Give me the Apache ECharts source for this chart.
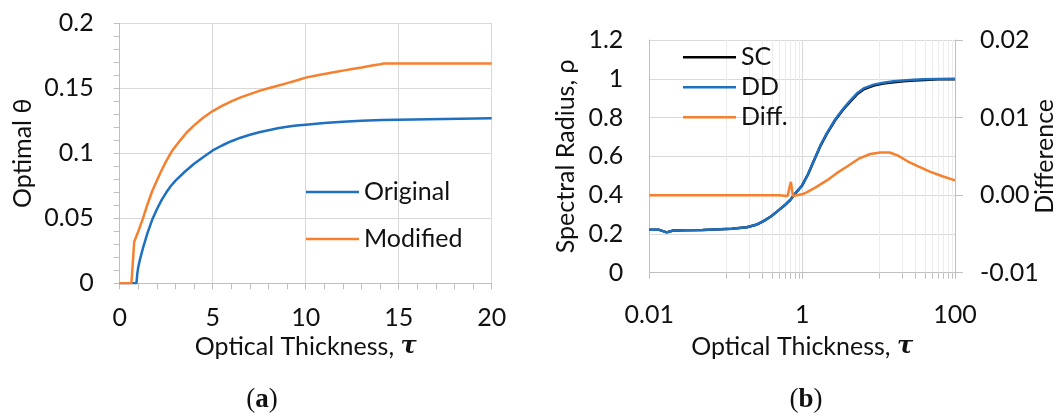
<!DOCTYPE html>
<html>
<head>
<meta charset="utf-8">
<script src="https://cdn.jsdelivr.net/npm/echarts@6/dist/echarts.min.js"></script>
<style>
  html, body { margin: 0; padding: 0; background: #fff; }
  #chart { width: 1054px; height: 414px; }
</style>
</head>
<body>
<div id="chart"></div>
<script>
// (a) optimal theta against optical thickness
const tauOriginal   = [0, 0.9, 0.95, 1.0, 1.1, 1.25, 1.5, 1.75, 2.0, 2.25, 2.5, 2.75, 3.0, 3.5, 4.0, 4.5, 5.0, 5.5, 6, 6.5, 7, 7.5, 8, 8.5, 9, 9.5, 10, 11, 12, 13, 14.1, 14.2, 20];
const thetaOriginal = [0, 0, 0.008, 0.0125, 0.019, 0.027, 0.039, 0.049, 0.057, 0.064, 0.0698, 0.0748, 0.079, 0.0858, 0.092, 0.0972, 0.1022, 0.106, 0.1093, 0.112, 0.1143, 0.1162, 0.1178, 0.1192, 0.1204, 0.1213, 0.122, 0.1233, 0.1243, 0.1251, 0.1257, 0.127, 0.127];
const tauModified   = [0, 0.63, 0.72, 0.78, 1.0, 1.25, 1.5, 1.75, 2.0, 2.25, 2.5, 2.8, 3.2, 3.6, 4.0, 4.5, 5.0, 5.5, 6.0, 6.5, 7.0, 7.5, 8, 8.5, 9, 9.5, 10, 10.5, 11, 11.5, 12, 12.5, 13, 13.5, 14, 14.2, 20];
const thetaModified = [0, 0, 0, 0.032, 0.040, 0.050, 0.061, 0.071, 0.079, 0.087, 0.094, 0.1015, 0.109, 0.116, 0.1215, 0.1275, 0.1325, 0.1365, 0.140, 0.143, 0.1455, 0.148, 0.150, 0.152, 0.154, 0.156, 0.1582, 0.1596, 0.161, 0.1623, 0.1636, 0.1648, 0.166, 0.1673, 0.1685, 0.169, 0.169];

// (b) spectral radius of the SC and DD schemes and their difference
const tauRadius = [0.01, 0.0135, 0.0169, 0.0206, 0.03, 0.05, 0.0845, 0.12, 0.189, 0.25, 0.312, 0.39, 0.468, 0.58, 0.698, 0.8, 1.0, 1.2, 1.41, 1.75, 2.11, 2.7, 3.49, 4.2, 5.22, 6.5, 8.63, 11.5, 15.8, 21, 28.8, 40, 60, 100];
const radiusDD  = [0.222, 0.221, 0.208, 0.218, 0.219, 0.220, 0.224, 0.227, 0.234, 0.247, 0.266, 0.29, 0.315, 0.345, 0.375, 0.405, 0.45, 0.51, 0.575, 0.66, 0.72, 0.79, 0.848, 0.885, 0.925, 0.952, 0.970, 0.980, 0.987, 0.991, 0.995, 0.997, 0.999, 1.0];
const radiusSC  = [0.222, 0.221, 0.208, 0.218, 0.219, 0.220, 0.224, 0.227, 0.234, 0.247, 0.266, 0.29, 0.315, 0.345, 0.375, 0.405, 0.45, 0.509, 0.573, 0.657, 0.717, 0.786, 0.844, 0.88, 0.92, 0.947, 0.965, 0.975, 0.982, 0.987, 0.991, 0.994, 0.997, 0.998];
const tauDiff   = [0.01, 0.5, 0.52, 0.644, 0.69, 0.713, 0.757, 0.8, 1.0, 1.16, 1.5, 2.11, 2.8, 3.87, 5.5, 7.8, 10.5, 14, 18, 23.6, 33, 47.7, 70, 100];
const radiusDiff = [0, 0, -0.0001, -0.0001, 0.0012, 0.0017, -0.0001, -0.0001, 0.0001, 0.0004, 0.001, 0.0019, 0.0028, 0.0037, 0.0047, 0.0053, 0.0055, 0.0055, 0.0051, 0.0044, 0.0037, 0.003, 0.0024, 0.0019];

// minor log grid positions and tick labels
const logMinorTau = [0.1, 0.2, 0.3, 0.4, 0.5, 0.6, 0.7, 0.8, 0.9, 10, 20, 30, 40, 50, 60, 70, 80, 90];
const diffTickLabels = ['-0.01', '0.00', '0.01', '0.02'];

const zip = (xs, ys) => xs.map((x, i) => [x, ys[i]]);

const FONT = 'Lato';
const FS = 25;
const TXT = '#111';
const AXIS = '#bfbfbf';
const GRID = '#d9d9d9';
const BLUE = '#1f70c1';
const ORANGE = '#f7802e';

const labelStyle = { fontFamily: FONT, fontSize: FS, color: TXT, lineHeight: FS };
const xTitle = {
  name: '{a|Optical Thickness, }{t|τ}',
  nameLocation: 'middle',
  nameMoveOverlap: false,
  nameTextStyle: {
    rich: {
      a: { fontFamily: FONT, fontSize: FS, color: TXT, lineHeight: FS },
      t: { fontFamily: 'DejaVu Serif', fontSize: 24, fontWeight: 'bold', fontStyle: 'italic', color: TXT, lineHeight: FS }
    }
  }
};

const chart = echarts.init(document.getElementById('chart'), null, { renderer: 'canvas' });

chart.setOption({
  animation: false,
  backgroundColor: '#fff',
  grid: [
    { left: 119.7, top: 23.3, right: 562.3, bottom: 130.7, outerBoundsMode: 'none', containLabel: false },
    { left: 649.3, top: 40, right: 99, bottom: 141.3, outerBoundsMode: 'none', containLabel: false }
  ],
  legend: [
    {
      data: ['Original', 'Modified'],
      orient: 'vertical', left: 306, top: 179.5, padding: 0,
      itemWidth: 53, itemHeight: 2.6, itemGap: 22, icon: 'rect',
      textStyle: labelStyle
    },
    {
      data: ['SC', 'DD', 'Diff.'],
      orient: 'vertical', left: 683, top: 44.8, padding: 0,
      itemWidth: 53, itemHeight: 2.6, itemGap: 5, icon: 'rect',
      textStyle: labelStyle
    }
  ],
  xAxis: [
    Object.assign({
      gridIndex: 0, type: 'value', min: 0, max: 20, interval: 5,
      nameGap: 51,
      axisLine: { lineStyle: { color: AXIS } },
      axisTick: { show: true, length: 6, lineStyle: { color: AXIS } },
      minorTick: { show: true, splitNumber: 5, length: 6, lineStyle: { color: AXIS } },
      axisLabel: Object.assign({ margin: 22.5 }, labelStyle),
      splitLine: { show: true, lineStyle: { color: GRID } }
    }, xTitle),
    Object.assign({
      gridIndex: 1, type: 'log', logBase: 100, min: 0.01, max: 100, splitNumber: 2,
      nameGap: 61.5,
      axisLine: { lineStyle: { color: AXIS } },
      axisTick: { show: true, length: 6, lineStyle: { color: AXIS } },
      axisLabel: Object.assign({ margin: 30, formatter: v => String(+(+v).toPrecision(6)) }, labelStyle),
      splitLine: { show: true, lineStyle: { color: GRID } }
    }, xTitle)
  ],
  yAxis: [
    {
      gridIndex: 0, type: 'value', min: 0, max: 0.2, interval: 0.05,
      name: 'Optimal θ', nameLocation: 'middle', nameGap: 84.5, nameMoveOverlap: false,
      nameTextStyle: labelStyle,
      axisLine: { show: true, lineStyle: { color: AXIS } },
      axisTick: { show: true, length: 6, lineStyle: { color: AXIS } },
      minorTick: { show: true, splitNumber: 5, length: 6, lineStyle: { color: AXIS } },
      axisLabel: Object.assign({ margin: 26 }, labelStyle),
      splitLine: { show: true, lineStyle: { color: GRID } }
    },
    {
      gridIndex: 1, type: 'value', min: 0, max: 1.2, interval: 0.2,
      name: 'Spectral Radius, ρ', nameLocation: 'middle', nameGap: 71, nameMoveOverlap: false,
      nameTextStyle: labelStyle,
      axisLine: { show: true, lineStyle: { color: AXIS } },
      axisTick: { show: false },
      axisLabel: Object.assign({ margin: 26 }, labelStyle),
      splitLine: { show: true, lineStyle: { color: GRID } }
    },
    {
      gridIndex: 1, type: 'value', position: 'right', min: -0.01, max: 0.02, interval: 0.01,
      name: 'Difference', nameLocation: 'middle', nameGap: 77, nameMoveOverlap: false,
      nameTextStyle: labelStyle,
      axisLine: { show: true, lineStyle: { color: AXIS } },
      axisTick: { show: true, length: 8, lineStyle: { color: AXIS } },
      axisLabel: Object.assign({
        margin: 25,
        formatter: v => diffTickLabels[Math.round((v + 0.01) / 0.01)]
      }, labelStyle),
      splitLine: { show: false }
    }
  ],
  series: [
    {
      name: 'Original', type: 'line', xAxisIndex: 0, yAxisIndex: 0,
      data: zip(tauOriginal, thetaOriginal), showSymbol: false, z: 3,
      lineStyle: { color: BLUE, width: 2.5 }, itemStyle: { color: BLUE }
    },
    {
      name: 'Modified', type: 'line', xAxisIndex: 0, yAxisIndex: 0,
      data: zip(tauModified, thetaModified), showSymbol: false, z: 4,
      lineStyle: { color: ORANGE, width: 2.5 }, itemStyle: { color: ORANGE }
    },
    {
      // minor log gridlines with their ticks under the axis
      type: 'custom', xAxisIndex: 1, yAxisIndex: 1, silent: true, clip: false, z: 1,
      data: logMinorTau.map(t => [t, 0]),
      encode: { x: 0, y: 1 },
      renderItem: (params, api) => {
        const top = api.coord([api.value(0), 1.2]);
        const bot = api.coord([api.value(0), 0]);
        const x = Math.round(bot[0]) + 0.5;
        return {
          type: 'group',
          children: [
            { type: 'line', shape: { x1: x, y1: top[1], x2: x, y2: bot[1] }, style: { stroke: '#ececec', lineWidth: 1 } },
            { type: 'line', shape: { x1: x, y1: bot[1], x2: x, y2: bot[1] + 6 }, style: { stroke: AXIS, lineWidth: 1 } }
          ]
        };
      }
    },
    {
      name: 'SC', type: 'line', xAxisIndex: 1, yAxisIndex: 1,
      data: zip(tauRadius, radiusSC), showSymbol: false, z: 3,
      lineStyle: { color: '#000', width: 2.5 }, itemStyle: { color: '#000' }
    },
    {
      name: 'DD', type: 'line', xAxisIndex: 1, yAxisIndex: 1,
      data: zip(tauRadius, radiusDD), showSymbol: false, z: 4,
      lineStyle: { color: BLUE, width: 2.5 }, itemStyle: { color: BLUE }
    },
    {
      name: 'Diff.', type: 'line', xAxisIndex: 1, yAxisIndex: 2,
      data: zip(tauDiff, radiusDiff), showSymbol: false, z: 5,
      lineStyle: { color: ORANGE, width: 2.5 }, itemStyle: { color: ORANGE }
    }
  ],
  graphic: [
    {
      type: 'text', x: 262, y: 400,
      style: {
        text: '{p|(}{b|a}{p|)}', align: 'center', verticalAlign: 'middle',
        rich: {
          p: { fontFamily: 'Liberation Serif', fontSize: 27, fill: TXT },
          b: { fontFamily: 'Liberation Serif', fontSize: 27, fontWeight: 'bold', fill: TXT }
        }
      }
    },
    {
      type: 'text', x: 806, y: 400,
      style: {
        text: '{p|(}{b|b}{p|)}', align: 'center', verticalAlign: 'middle',
        rich: {
          p: { fontFamily: 'Liberation Serif', fontSize: 27, fill: TXT },
          b: { fontFamily: 'Liberation Serif', fontSize: 27, fontWeight: 'bold', fill: TXT }
        }
      }
    }
  ]
});
</script>
</body>
</html>
